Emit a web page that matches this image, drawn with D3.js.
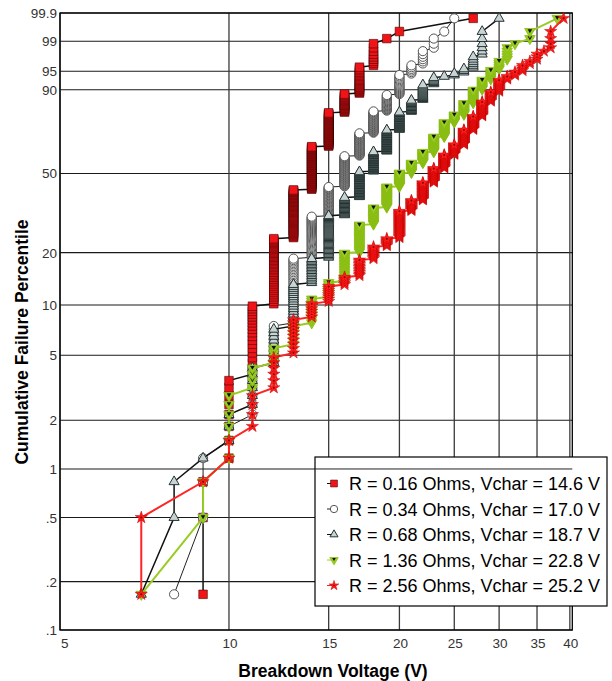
<!DOCTYPE html>
<html>
<head>
<meta charset="utf-8">
<script src="https://cdn.jsdelivr.net/npm/d3@7"></script>
<style>
  body { margin: 0; background: #fff; }
  svg { display: block; font-family: "Liberation Sans", Arial, sans-serif; }
</style>
</head>
<body>
<svg id="chart" width="612" height="681"></svg>
<script>
// tick values and labels
var xTicks = [5, 10, 15, 20, 25, 30, 35, 40];
var yTicks = [0.1, 0.2, 0.5, 1, 2, 5, 10, 20, 50, 90, 95, 99, 99.9];
var yTickLabels = ['.1', '.2', '.5', '1', '2', '5', '10', '20', '50', '90', '95', '99', '99.9'];

var legendLabels = [
  'R = 0.16 Ohms, Vchar = 14.6 V',
  'R = 0.34 Ohms, Vchar = 17.0 V',
  'R = 0.68 Ohms, Vchar = 18.7 V',
  'R = 1.36 Ohms, Vchar = 22.8 V',
  'R = 2.56 Ohms, Vchar = 25.2 V'
];

// breakdown voltage (V) and number of failures at that voltage
var volts016 = [9, 10, 11, 12, 13, 14, 15, 16, 17, 18, 19, 20, 27];
var counts016 = [3, 8, 19, 42, 55, 65, 51, 23, 22, 9, 1, 1, 1];

var volts034 = [8, 9, 10, 11, 12, 13, 14, 15, 16, 17, 18, 19, 20, 21, 22, 23, 24, 25];
var counts034 = [1, 3, 2, 7, 10, 33, 38, 37, 46, 36, 32, 20, 18, 6, 6, 3, 1, 1];

var volts068 = [7, 8, 9, 10, 11, 12, 13, 14, 15, 16, 17, 18, 19, 20, 21, 22, 23, 24, 25, 26, 27, 28, 30];
var counts068 = [1, 2, 1, 3, 6, 9, 18, 16, 39, 22, 36, 31, 34, 26, 15, 16, 6, 1, 2, 3, 6, 6, 1];

var volts136 = [7, 9, 10, 11, 12, 13, 14, 15, 16, 17, 18, 19, 20, 21, 22, 23, 24, 25, 26, 27, 28, 29, 30, 31, 32, 34, 38];
var counts136 = [1, 2, 6, 4, 4, 6, 10, 8, 19, 25, 19, 27, 20, 15, 17, 24, 22, 11, 15, 15, 9, 7, 5, 5, 1, 2, 1];

var volts256 = [7, 9, 10, 11, 12, 13, 14, 15, 16, 17, 18, 19, 20, 21, 22, 23, 24, 25, 26, 27, 28, 29, 30, 31, 32, 33, 34, 35, 36, 37, 39];
var counts256 = [2, 1, 2, 4, 6, 10, 6, 8, 5, 11, 10, 7, 28, 13, 24, 21, 21, 16, 23, 20, 19, 11, 11, 3, 3, 4, 2, 3, 1, 4, 1];

var series = [
  {volts: volts016, counts: counts016, marker: 'square', line: '#111', lineWidth: 1.5},
  {volts: volts034, counts: counts034, marker: 'circle', line: '#222', lineWidth: 1},
  {volts: volts068, counts: counts068, marker: 'triangle', line: '#111', lineWidth: 1.5},
  {volts: volts136, counts: counts136, marker: 'down', line: '#99cc22', lineWidth: 2},
  {volts: volts256, counts: counts256, marker: 'star', line: '#ff2424', lineWidth: 2}
];

var svg = d3.select('#chart');
var plot = {left: 60, right: 572.3, top: 13, bottom: 630};

// Weibull probability axis
function weib(p) { return Math.log(-Math.log(1 - p)); }

var x = d3.scaleLog().domain([5.03, 40.4]).range([plot.left, plot.right]).clamp(true);
var y = d3.scaleLinear().domain([weib(0.001), weib(0.999)]).range([plot.bottom, plot.top]);

// grid
var grid = svg.append('g');
grid.selectAll('.hgrid')
  .data(yTicks)
  .enter().append('line')
    .attr('x1', plot.left).attr('x2', plot.right)
    .attr('y1', function(d) { return y(weib(d / 100)); })
    .attr('y2', function(d) { return y(weib(d / 100)); })
    .attr('stroke', '#1a1a1a').attr('stroke-width', 1.1);

grid.selectAll('.vgrid')
  .data(xTicks)
  .enter().append('line')
    .attr('x1', function(d) { return x(d); })
    .attr('x2', function(d) { return x(d); })
    .attr('y1', plot.top).attr('y2', plot.bottom)
    .attr('stroke', '#3a3a3a').attr('stroke-width', 1.3);

svg.append('rect')
  .attr('x', plot.left).attr('y', plot.top)
  .attr('width', plot.right - plot.left).attr('height', plot.bottom - plot.top)
  .attr('fill', 'none').attr('stroke', '#000').attr('stroke-width', 1.3);

// tick labels
svg.append('g').selectAll('text')
  .data(yTicks)
  .enter().append('text')
    .attr('x', 57)
    .attr('y', function(d) { return y(weib(d / 100)) + 5; })
    .attr('text-anchor', 'end')
    .attr('font-size', 13.5)
    .attr('fill', '#333')
    .text(function(d, i) { return yTickLabels[i]; });

svg.append('g').selectAll('text')
  .data(xTicks)
  .enter().append('text')
    .attr('x', function(d) { return x(d) + 1; })
    .attr('y', 648)
    .attr('text-anchor', function(d, i) { return i === 0 ? 'start' : 'middle'; })
    .attr('font-size', 13.5)
    .attr('fill', '#333')
    .text(function(d) { return d; });

// axis titles
svg.append('text')
  .attr('transform', 'translate(28,342) rotate(-90)')
  .attr('text-anchor', 'middle')
  .attr('font-size', 17.5).attr('font-weight', 'bold')
  .text('Cumulative Failure Percentile');

svg.append('text')
  .attr('x', 333).attr('y', 677)
  .attr('text-anchor', 'middle')
  .attr('font-size', 17.5).attr('font-weight', 'bold')
  .text('Breakdown Voltage (V)');

// markers
function drawMarker(g, kind, px, py, scale) {
  scale = scale || 1;
  var t = 'translate(' + px + ',' + py + ')';
  if (kind === 'square') {
    g.append('path').attr('transform', t)
      .attr('d', d3.symbol(d3.symbolSquare, 74 * scale * scale)())
      .attr('fill', '#f01418').attr('stroke', '#3a0000').attr('stroke-width', 0.55);
  } else if (kind === 'circle') {
    g.append('path').attr('transform', t)
      .attr('d', d3.symbol(d3.symbolCircle, 66 * scale * scale)())
      .attr('fill', '#fff').attr('stroke', '#555').attr('stroke-width', 1);
  } else if (kind === 'triangle') {
    g.append('path').attr('transform', t)
      .attr('d', d3.symbol(d3.symbolTriangle, 44 * scale * scale)())
      .attr('fill', '#c9d3d3').attr('stroke', '#243232').attr('stroke-width', 1);
  } else if (kind === 'down') {
    g.append('path').attr('transform', t + ' rotate(180)')
      .attr('d', d3.symbol(d3.symbolTriangle, 48 * scale * scale)())
      .attr('fill', '#99cc22').attr('stroke', '#88bb11').attr('stroke-width', 0.8);
    g.append('path').attr('transform', t + ' translate(0,-1) rotate(180)')
      .attr('d', d3.symbol(d3.symbolTriangle, 9 * scale * scale)())
      .attr('fill', '#111');
  } else if (kind === 'star') {
    g.append('path').attr('transform', t)
      .attr('d', d3.symbol(d3.symbolStar, 46 * scale * scale)())
      .attr('fill', '#ff1c1c').attr('stroke', '#c00000').attr('stroke-width', 0.5);
    g.append('circle').attr('cx', px).attr('cy', py).attr('r', 1 * scale).attr('fill', '#700');
  }
}

var line = d3.line()
  .x(function(d) { return x(d.v); })
  .y(function(d) { return y(weib(d.f)); });

series.forEach(function(s) {
  var n = d3.sum(s.counts);
  var pts = [];
  s.volts.forEach(function(v, k) {
    for (var j = 0; j < s.counts[k]; j++) {
      pts.push({v: v, f: (pts.length + 0.5) / n});
    }
  });
  var g = svg.append('g');
  g.append('path')
    .datum(pts)
    .attr('d', line)
    .attr('fill', 'none')
    .attr('stroke', s.line)
    .attr('stroke-width', s.lineWidth);
  pts.forEach(function(p) {
    drawMarker(g, s.marker, x(p.v), y(weib(p.f)));
  });
});

// legend
var legend = svg.append('g');
legend.append('rect')
  .attr('x', 315).attr('y', 457).attr('width', 292).attr('height', 149)
  .attr('fill', '#fff').attr('stroke', '#000').attr('stroke-width', 1.2);
legend.append('line')
  .attr('x1', 315).attr('x2', plot.right)
  .attr('y1', y(weib(0.01))).attr('y2', y(weib(0.01)))
  .attr('stroke', '#222').attr('stroke-width', 1);

legendLabels.forEach(function(label, i) {
  var ly = 483.5 + i * 25.5;
  legend.append('line')
    .attr('x1', 327).attr('x2', 334).attr('y1', ly).attr('y2', ly)
    .attr('stroke', series[i].line).attr('stroke-width', 1);
  drawMarker(legend, series[i].marker, 334, ly, 0.8);
  legend.append('text')
    .attr('x', 349).attr('y', ly + 6.5)
    .attr('font-size', 18)
    .attr('fill', '#000')
    .text(label);
});
</script>
</body>
</html>
